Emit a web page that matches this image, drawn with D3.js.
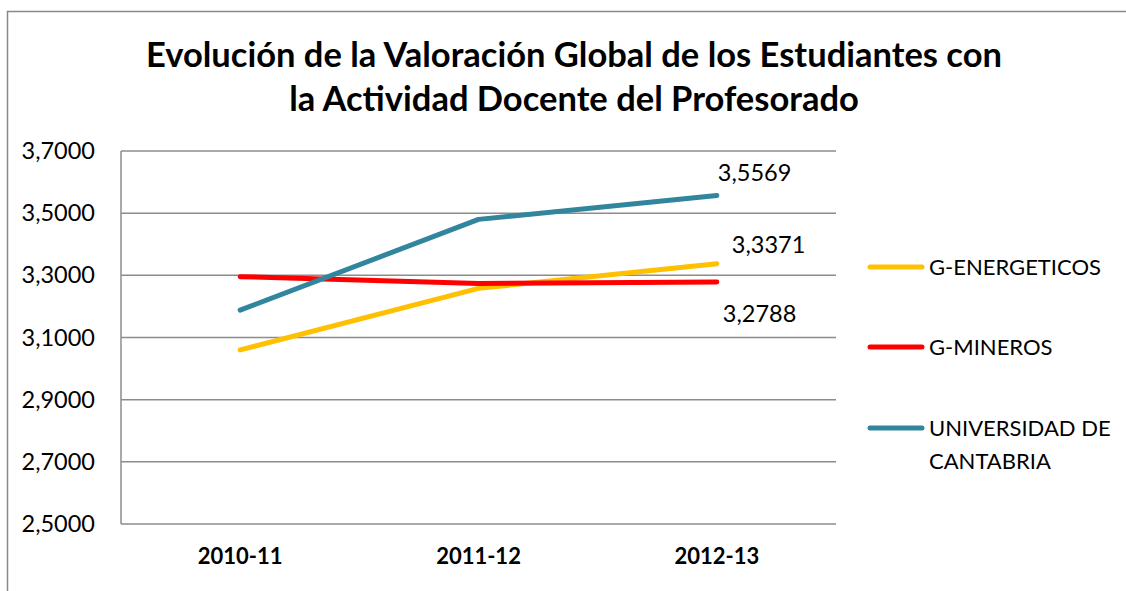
<!DOCTYPE html>
<html><head><meta charset="utf-8">
<script src="https://cdn.jsdelivr.net/npm/d3@7"></script>
<style>body{margin:0;background:#fff}svg{display:block}</style>
</head><body>
<svg id="c" width="1126" height="591"></svg>
<script>
const categories = ["2010-11", "2011-12", "2012-13"];
const seriesNames = ["G-ENERGETICOS", "G-MINEROS", "UNIVERSIDAD DE CANTABRIA"];
const energeticos = [3.060, 3.258, 3.3371];
const mineros = [3.2957, 3.274, 3.2788];
const universidad = [3.188, 3.480, 3.5569];
const seriesColors = ["#FFC000", "#FF0000", "#31859C"];
const yTicks = [2.5, 2.7, 2.9, 3.1, 3.3, 3.5, 3.7];
const titleLines = ["Evolución de la Valoración Global de los Estudiantes con", "la Actividad Docente del Profesorado"];

const series = [energeticos, mineros, universidad];
const font = "Lato, 'Open Sans', sans-serif";
const svg = d3.select("#c");

svg.append("rect").attr("x", 7.5).attr("y", 11.5).attr("width", 1130).attr("height", 600)
  .attr("fill", "#fff").attr("stroke", "#888").attr("stroke-width", 1.5);

const L = 121, R = 836, T = 151, B = 524;
const x = d3.scaleBand().domain(categories).range([L, R]);
const y = d3.scaleLinear().domain([2.5, 3.7]).range([B, T]);

// gridlines
svg.append("g").selectAll("line").data(yTicks).join("line")
  .attr("x1", L).attr("x2", R).attr("y1", d => y(d)).attr("y2", d => y(d))
  .attr("stroke", "#8c8c8c").attr("stroke-width", 1.5);
svg.append("line").attr("x1", L).attr("x2", L).attr("y1", T).attr("y2", B)
  .attr("stroke", "#8c8c8c").attr("stroke-width", 1.5);

// y axis labels
const fmt = d => d3.format(".4f")(d).replace(".", ",");
const yAxis = d3.axisLeft(y).tickValues(yTicks).tickFormat(fmt).tickSize(0).tickPadding(26);
const ga = svg.append("g").attr("transform", `translate(${L},0)`).call(yAxis);
ga.select(".domain").remove();
ga.selectAll("text").attr("font-family", font).attr("font-size", 23.5).attr("fill", "#000");

// x axis labels
const xAxis = d3.axisBottom(x).tickSize(0).tickPadding(24);
const gx = svg.append("g").attr("transform", `translate(0,${B})`).call(xAxis);
gx.select(".domain").remove();
gx.selectAll("text").attr("font-family", font).attr("font-size", 22).attr("font-weight", "bold").attr("fill", "#000");

// lines
const line = d3.line().x((d, i) => x(categories[i]) + x.bandwidth() / 2).y(d => y(d));
svg.append("g").selectAll("path").data(series).join("path")
  .attr("d", d => line(d)).attr("fill", "none")
  .attr("stroke", (d, i) => seriesColors[i]).attr("stroke-width", 5)
  .attr("stroke-linecap", "round").attr("stroke-linejoin", "round");

// data labels on last point
const lastX = x(categories[2]) + x.bandwidth() / 2;
const labelOffsets = [[15, -11], [6, 40], [1, -14]];
svg.append("g").selectAll("text").data(series).join("text")
  .attr("x", (d, i) => lastX + labelOffsets[i][0])
  .attr("y", (d, i) => y(d[2]) + labelOffsets[i][1])
  .attr("font-family", font).attr("font-size", 23.5).attr("fill", "#000")
  .text(d => fmt(d[2]));

// title
svg.append("g").selectAll("text").data(titleLines).join("text")
  .attr("x", 574).attr("y", (d, i) => 67 + i * 44)
  .attr("text-anchor", "middle").attr("font-family", font)
  .attr("font-size", 34.5).attr("font-weight", "bold").attr("fill", "#000")
  .text(d => d);

// legend
const legY = [267, 347, 428];
const lg = svg.append("g");
seriesNames.forEach((n, i) => {
  lg.append("line").attr("x1", 870).attr("x2", 922).attr("y1", legY[i]).attr("y2", legY[i])
    .attr("stroke", seriesColors[i]).attr("stroke-width", 5).attr("stroke-linecap", "round");
});
const legendLines = [["G-ENERGETICOS"], ["G-MINEROS"], ["UNIVERSIDAD DE", "CANTABRIA"]];
legendLines.forEach((ls, i) => {
  ls.forEach((t, j) => {
    lg.append("text").attr("x", 929).attr("y", legY[i] + 8 + j * 33)
      .attr("font-family", font).attr("font-size", 22).attr("fill", "#000").text(t);
  });
});
</script>
</body></html>
